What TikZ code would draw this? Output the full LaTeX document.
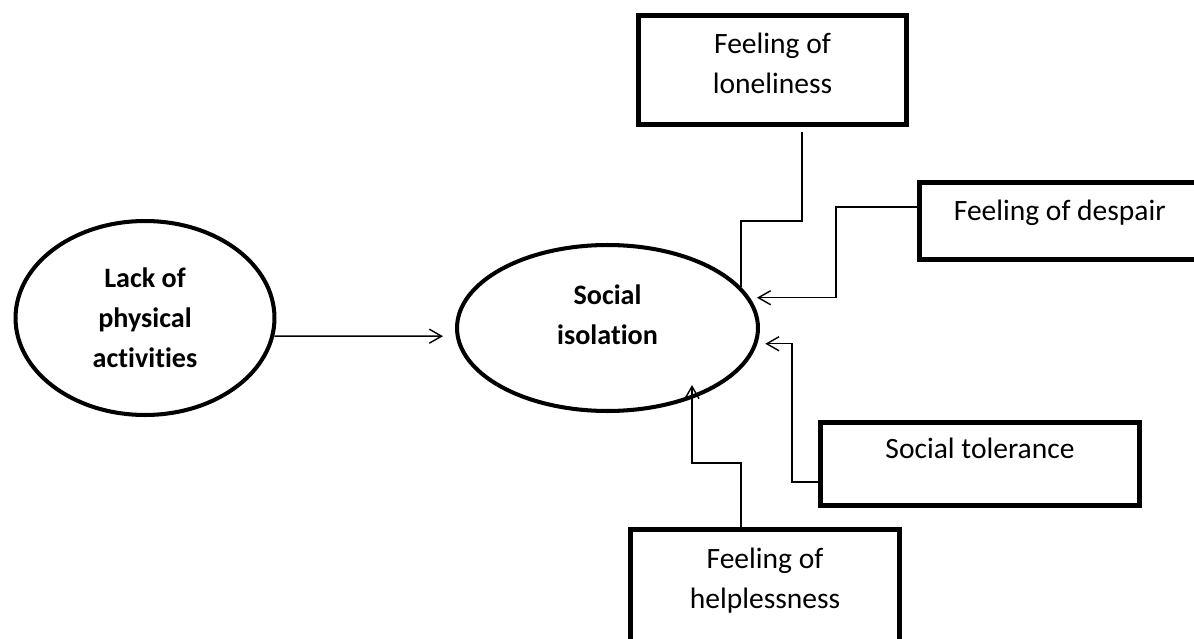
\documentclass[tikz,border=0pt]{standalone}
\usepackage{fontspec}
\setmainfont{Carlito}[Ligatures=NoCommon]
\usetikzlibrary{arrows.meta,shapes.geometric,calc}

\begin{document}
\begin{tikzpicture}[x=0.02cm, y=-0.02cm,
  causebox/.style={draw, line width=3pt, rectangle, inner sep=0pt, align=center,
    font=\fontsize{16.8}{22.8}\selectfont},
  factor/.style={draw, line width=2.3pt, ellipse, inner sep=0pt, align=center,
    font=\fontsize{16}{22.8}\selectfont\bfseries},
  link/.style={line width=0.8pt},
  arr/.style={link, -{Straight Barb[length=7pt,width=8pt]}}]
  \clip (0,0) rectangle (1194,639);

  % the two ellipses
  \node[factor, minimum width=5.18cm, minimum height=3.88cm] (lack) at (145,318) {Lack of\\physical\\activities};
  \node[factor, minimum width=6.02cm, minimum height=3.32cm, text depth=15pt] (iso) at (607.5,328) {Social\\isolation};

  % the boxes round the right
  \node[causebox, minimum width=5.36cm, minimum height=2.18cm, text depth=7.7pt] (lonely) at (772.5,70) {Feeling of\\loneliness};
  \node[causebox, minimum width=5.6cm, minimum height=1.54cm, text depth=12.8pt] (despair) at (1059.8,221) {Feeling of despair};
  \node[causebox, minimum width=6.38cm, minimum height=1.66cm, text depth=17.4pt] (tolerance) at (980,464) {Social tolerance};
  \node[causebox, minimum width=5.38cm, minimum height=2.3cm, text depth=10.5pt] (helpless) at (765,587) {Feeling of\\helplessness};

  % connectors
  \draw[arr] (lack.-8) -- ($(iso.west)+(-12,8.2)$);
  \draw[link] ($(lonely.south)+(29.5,5)$) -- ++(0,89) -| (iso.17);
  \draw[arr] ($(despair.west)+(0,-14)$) -- ++(-81,0) |- ($(iso.12)+(7,0)$);
  \draw[arr] ($(tolerance.west)+(0,18)$) -- ++(-26,0) |- ($(iso.-6)+(8,0)$);
  \draw[arr] ($(helpless.north)+(-24,0)$) -- ++(0,-64) -| ($(iso.center)+(84.5,57)$);
\end{tikzpicture}
\end{document}
